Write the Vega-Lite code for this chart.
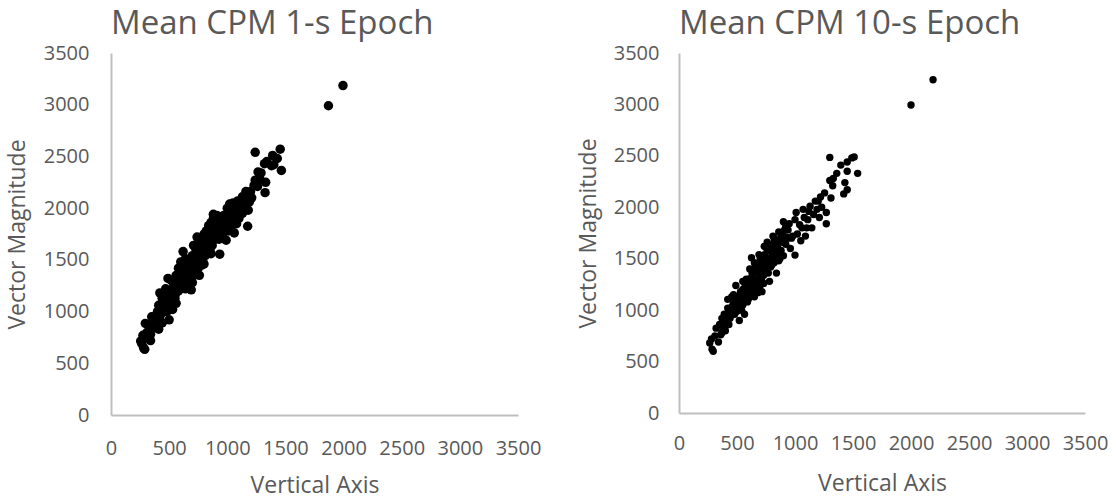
{"$schema":"https://vega.github.io/schema/vega-lite/v6.json","background":"white","padding":{"left":6,"top":8,"right":0,"bottom":0},"autosize":{"type":"pad"},"spacing":36,
"config":{"font":"Open Sans","view":{"stroke":null},"axis":{"grid":false,"ticks":false,"domainColor":"#bfbfbf","domainWidth":2,"labelColor":"#595959","titleColor":"#595959","labelFontSize":20,"titleFontSize":23,"titleFontWeight":"normal","labelFont":"Open Sans","titleFont":"Open Sans","format":"d","labelOverlap":false,"labelFlush":false},"title":{"font":"Open Sans","fontSize":33,"fontWeight":"normal","color":"#595959"}},
"datasets":{
"one":[{"x":1870,"y":2990},{"x":1995,"y":3185},{"x":1240,"y":2540},{"x":1455,"y":2570},{"x":1465,"y":2365},{"x":1330,"y":2250},{"x":1325,"y":2150},{"x":1175,"y":1825},{"x":935,"y":1555},{"x":290,"y":635},{"x":280,"y":650},{"x":255,"y":715},{"x":265,"y":690},{"x":275,"y":770},{"x":295,"y":885},{"x":340,"y":720},{"x":310,"y":800},{"x":340,"y":780},{"x":350,"y":950},{"x":380,"y":850},{"x":410,"y":830},{"x":400,"y":1000},{"x":440,"y":890},{"x":500,"y":920},{"x":420,"y":1180},{"x":450,"y":1100},{"x":430,"y":1040},{"x":470,"y":1000},{"x":490,"y":1320},{"x":530,"y":1020},{"x":510,"y":1200},{"x":480,"y":1130},{"x":550,"y":1130},{"x":540,"y":1250},{"x":570,"y":1300},{"x":600,"y":1230},{"x":620,"y":1580},{"x":610,"y":1400},{"x":640,"y":1320},{"x":690,"y":1210},{"x":660,"y":1450},{"x":680,"y":1350},{"x":700,"y":1280},{"x":720,"y":1480},{"x":740,"y":1720},{"x":760,"y":1350},{"x":730,"y":1600},{"x":770,"y":1550},{"x":800,"y":1460},{"x":790,"y":1650},{"x":820,"y":1780},{"x":850,"y":1600},{"x":830,"y":1700},{"x":880,"y":1940},{"x":870,"y":1750},{"x":910,"y":1930},{"x":900,"y":1700},{"x":940,"y":1830},{"x":990,"y":1690},{"x":960,"y":1750},{"x":1000,"y":2000},{"x":1030,"y":1800},{"x":1060,"y":1760},{"x":1040,"y":1900},{"x":1050,"y":2050},{"x":1090,"y":2070},{"x":1100,"y":1900},{"x":1130,"y":1950},{"x":1160,"y":2040},{"x":1180,"y":1980},{"x":1150,"y":2090},{"x":1160,"y":2160},{"x":1210,"y":2100},{"x":1240,"y":2270},{"x":1260,"y":2210},{"x":1265,"y":2350},{"x":1290,"y":2340},{"x":1340,"y":2450},{"x":1320,"y":2430},{"x":1390,"y":2510},{"x":1430,"y":2480},{"x":1380,"y":2410},{"x":350,"y":840},{"x":380,"y":920},{"x":420,"y":950},{"x":450,"y":1000},{"x":500,"y":1060},{"x":540,"y":1150},{"x":580,"y":1200},{"x":620,"y":1270},{"x":660,"y":1360},{"x":700,"y":1420},{"x":740,"y":1500},{"x":780,"y":1580},{"x":820,"y":1640},{"x":860,"y":1680},{"x":900,"y":1800},{"x":950,"y":1880},{"x":1000,"y":1850},{"x":1050,"y":1960},{"x":1100,"y":2000},{"x":560,"y":1350},{"x":600,"y":1320},{"x":640,"y":1420},{"x":680,"y":1500},{"x":720,"y":1400},{"x":760,"y":1620},{"x":800,"y":1750},{"x":840,"y":1830},{"x":580,"y":1420},{"x":520,"y":1300},{"x":470,"y":1220},{"x":440,"y":1130},{"x":400,"y":900},{"x":370,"y":870},{"x":920,"y":1780},{"x":980,"y":1800},{"x":1020,"y":2040},{"x":1080,"y":1850},{"x":1120,"y":2060},{"x":860,"y":1860},{"x":790,"y":1480},{"x":700,"y":1540},{"x":640,"y":1220},{"x":600,"y":1480},{"x":320,"y":740},{"x":360,"y":900},{"x":390,"y":960},{"x":410,"y":1060},{"x":430,"y":980},{"x":460,"y":1060},{"x":470,"y":1150},{"x":490,"y":1010},{"x":510,"y":1120},{"x":520,"y":1090},{"x":530,"y":1210},{"x":550,"y":1290},{"x":560,"y":1180},{"x":570,"y":1240},{"x":590,"y":1360},{"x":610,"y":1300},{"x":630,"y":1380},{"x":650,"y":1280},{"x":650,"y":1500},{"x":670,"y":1420},{"x":690,"y":1300},{"x":710,"y":1350},{"x":710,"y":1530},{"x":730,"y":1440},{"x":750,"y":1420},{"x":750,"y":1560},{"x":770,"y":1650},{"x":780,"y":1450},{"x":810,"y":1540},{"x":810,"y":1690},{"x":830,"y":1580},{"x":840,"y":1740},{"x":870,"y":1640},{"x":890,"y":1730},{"x":890,"y":1840},{"x":930,"y":1700},{"x":930,"y":1880},{"x":970,"y":1840},{"x":970,"y":1930},{"x":1010,"y":1780},{"x":1010,"y":1920},{"x":1060,"y":1880},{"x":1070,"y":1980},{"x":1110,"y":1960},{"x":1140,"y":2020},{"x":1190,"y":2060},{"x":1200,"y":2160},{"x":1230,"y":2220},{"x":1280,"y":2280},{"x":1400,"y":2420},{"x":450,"y":1180},{"x":560,"y":1080},{"x":640,"y":1510},{"x":860,"y":1560},{"x":710,"y":1640},{"x":880,"y":1900},{"x":1130,"y":2110},{"x":760,"y":1700}],
"ten":[{"x":2000,"y":2995},{"x":2190,"y":3240},{"x":1300,"y":2485},{"x":1510,"y":2490},{"x":1490,"y":2480},{"x":1540,"y":2330},{"x":1270,"y":1840},{"x":1000,"y":1535},{"x":1430,"y":2240},{"x":1420,"y":2130},{"x":1450,"y":2170},{"x":1395,"y":2410},{"x":1450,"y":2440},{"x":1450,"y":2350},{"x":1360,"y":2330},{"x":1300,"y":2260},{"x":1330,"y":2280},{"x":1325,"y":2210},{"x":1310,"y":2090},{"x":1255,"y":2140},{"x":1220,"y":2100},{"x":1175,"y":2060},{"x":1270,"y":1950},{"x":1210,"y":1900},{"x":1130,"y":2010},{"x":1070,"y":1980},{"x":1010,"y":1950},{"x":1000,"y":1880},{"x":900,"y":1860},{"x":1145,"y":1800},{"x":1050,"y":1675},{"x":810,"y":1720},{"x":735,"y":1620},{"x":625,"y":1510},{"x":490,"y":1240},{"x":420,"y":1105},{"x":320,"y":825},{"x":265,"y":680},{"x":280,"y":720},{"x":285,"y":620},{"x":295,"y":600},{"x":520,"y":900},{"x":565,"y":960},{"x":715,"y":1180},{"x":840,"y":1360},{"x":900,"y":1530},{"x":310,"y":750},{"x":340,"y":690},{"x":350,"y":860},{"x":370,"y":780},{"x":400,"y":800},{"x":390,"y":960},{"x":430,"y":860},{"x":450,"y":1000},{"x":440,"y":920},{"x":470,"y":1080},{"x":500,"y":990},{"x":510,"y":1100},{"x":530,"y":1180},{"x":550,"y":1050},{"x":570,"y":1250},{"x":590,"y":1150},{"x":600,"y":1300},{"x":620,"y":1220},{"x":650,"y":1130},{"x":640,"y":1400},{"x":670,"y":1300},{"x":690,"y":1450},{"x":700,"y":1240},{"x":720,"y":1380},{"x":750,"y":1510},{"x":780,"y":1280},{"x":770,"y":1440},{"x":800,"y":1560},{"x":820,"y":1460},{"x":850,"y":1610},{"x":870,"y":1500},{"x":880,"y":1720},{"x":920,"y":1640},{"x":940,"y":1780},{"x":960,"y":1600},{"x":980,"y":1720},{"x":1040,"y":1830},{"x":1090,"y":1720},{"x":1110,"y":1880},{"x":1160,"y":1930},{"x":1230,"y":2000},{"x":380,"y":870},{"x":420,"y":960},{"x":460,"y":1040},{"x":500,"y":1130},{"x":540,"y":1160},{"x":580,"y":1230},{"x":620,"y":1310},{"x":660,"y":1370},{"x":700,"y":1350},{"x":740,"y":1420},{"x":780,"y":1500},{"x":820,"y":1580},{"x":860,"y":1680},{"x":900,"y":1720},{"x":940,"y":1700},{"x":550,"y":1280},{"x":600,"y":1200},{"x":650,"y":1460},{"x":700,"y":1500},{"x":760,"y":1580},{"x":800,"y":1640},{"x":470,"y":1150},{"x":520,"y":1050},{"x":440,"y":1010},{"x":410,"y":880},{"x":360,"y":760},{"x":380,"y":820},{"x":400,"y":900},{"x":430,"y":990},{"x":450,"y":950},{"x":480,"y":1020},{"x":490,"y":1100},{"x":510,"y":1040},{"x":530,"y":1090},{"x":540,"y":1000},{"x":550,"y":1200},{"x":560,"y":1120},{"x":570,"y":1180},{"x":580,"y":1300},{"x":590,"y":1080},{"x":610,"y":1260},{"x":620,"y":1150},{"x":630,"y":1360},{"x":640,"y":1270},{"x":650,"y":1200},{"x":660,"y":1300},{"x":670,"y":1420},{"x":680,"y":1250},{"x":690,"y":1350},{"x":710,"y":1300},{"x":720,"y":1460},{"x":730,"y":1340},{"x":740,"y":1540},{"x":750,"y":1400},{"x":760,"y":1470},{"x":770,"y":1360},{"x":790,"y":1420},{"x":790,"y":1620},{"x":810,"y":1500},{"x":830,"y":1660},{"x":840,"y":1540},{"x":860,"y":1760},{"x":880,"y":1580},{"x":890,"y":1660},{"x":910,"y":1780},{"x":930,"y":1710},{"x":950,"y":1840},{"x":970,"y":1700},{"x":1020,"y":1740},{"x":1060,"y":1800},{"x":1080,"y":1900},{"x":1120,"y":1960},{"x":1190,"y":1980},{"x":455,"y":1130},{"x":530,"y":1130},{"x":600,"y":1110},{"x":590,"y":1220},{"x":680,"y":1170},{"x":610,"y":1400},{"x":700,"y":1420},{"x":660,"y":1220},{"x":730,"y":1260},{"x":800,"y":1440},{"x":820,"y":1700},{"x":860,"y":1480},{"x":920,"y":1820},{"x":760,"y":1660},{"x":690,"y":1540},{"x":480,"y":960},{"x":420,"y":1020},{"x":370,"y":920},{"x":1100,"y":1800},{"x":1200,"y":2060}]},
"hconcat":[
{"data":{"name":"one"},"width":407,"height":362,"title":{"text":"Mean CPM 1-s Epoch","anchor":"start","frame":"group","offset":2},"mark":{"type":"circle","color":"black","opacity":1,"size":90},"encoding":{"x":{"field":"x","type":"quantitative","title":"Vertical Axis","scale":{"domain":[0,3500]},"axis":{"values":[0,500,1000,1500,2000,2500,3000,3500],"labelPadding":23,"titlePadding":16}},"y":{"field":"y","type":"quantitative","title":"Vector Magnitude","scale":{"domain":[0,3500]},"axis":{"values":[0,500,1000,1500,2000,2500,3000,3500],"labelPadding":22,"titlePadding":14}}}},
{"data":{"name":"ten"},"width":406,"height":360,"title":{"text":"Mean CPM 10-s Epoch","anchor":"start","frame":"group","offset":2},"mark":{"type":"circle","color":"black","opacity":1,"size":55},"encoding":{"x":{"field":"x","type":"quantitative","title":"Vertical Axis","scale":{"domain":[0,3500]},"axis":{"values":[0,500,1000,1500,2000,2500,3000,3500],"labelPadding":20,"titlePadding":19}},"y":{"field":"y","type":"quantitative","title":"Vector Magnitude","scale":{"domain":[0,3500]},"axis":{"values":[0,500,1000,1500,2000,2500,3000,3500],"labelPadding":20,"titlePadding":13}}}}
]}
